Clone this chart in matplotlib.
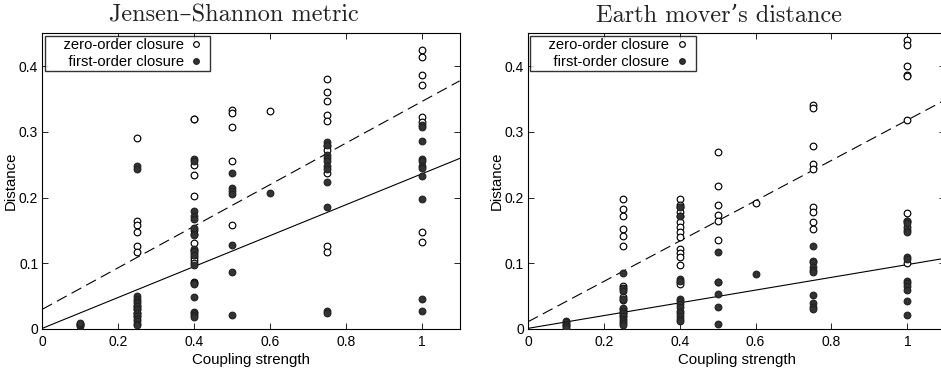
import matplotlib
matplotlib.use("Agg")
import matplotlib.pyplot as plt
import numpy as np

# ---------------- data ----------------
# Jensen-Shannon metric
js_zero_x = ([0.25]*10 + [0.4]*15 + [0.5]*5 + [0.6] + [0.75]*10 + [1.0]*8)
js_zero_y = ([0.291, 0.165, 0.158, 0.148, 0.127, 0.117, 0.035, 0.030, 0.025, 0.020] +
             [0.320, 0.319, 0.250, 0.235, 0.202, 0.151, 0.145, 0.131, 0.120, 0.115,
              0.110, 0.105, 0.100, 0.072, 0.070] +
             [0.333, 0.328, 0.308, 0.256, 0.159] +
             [0.331] +
             [0.380, 0.360, 0.347, 0.325, 0.316, 0.278, 0.272, 0.238, 0.126, 0.117] +
             [0.424, 0.414, 0.387, 0.371, 0.322, 0.315, 0.147, 0.132])
js_first_x = ([0.1]*5 + [0.25]*14 + [0.4]*17 + [0.5]*7 + [0.6] + [0.75]*11 + [1.0]*11)
js_first_y = ([0.004, 0.006, 0.007, 0.008, 0.009] +
              [0.248, 0.244, 0.050, 0.046, 0.043, 0.040, 0.035, 0.030, 0.025, 0.020,
               0.015, 0.012, 0.008, 0.006] +
              [0.259, 0.255, 0.179, 0.172, 0.168, 0.153, 0.143, 0.122, 0.118, 0.112,
               0.097, 0.068, 0.049, 0.026, 0.024, 0.021, 0.019] +
              [0.238, 0.215, 0.210, 0.206, 0.128, 0.087, 0.022] +
              [0.207] +
              [0.284, 0.280, 0.265, 0.260, 0.255, 0.248, 0.243, 0.224, 0.185, 0.028, 0.025] +
              [0.311, 0.308, 0.286, 0.259, 0.255, 0.248, 0.245, 0.233, 0.198, 0.045, 0.027])
js_zero_fit = [0.030, 0.316]    # intercept, slope
js_first_fit = [0.001, 0.235]

# Earth mover's distance
emd_zero_x = ([0.25]*13 + [0.4]*15 + [0.5]*6 + [0.6] + [0.75]*9 + [1.0]*10)
emd_zero_y = ([0.198, 0.183, 0.172, 0.152, 0.142, 0.126, 0.066, 0.062, 0.048, 0.044,
               0.030, 0.025, 0.020] +
              [0.198, 0.189, 0.185, 0.178, 0.172, 0.163, 0.155, 0.147, 0.140, 0.122,
               0.115, 0.110, 0.098, 0.072, 0.069] +
              [0.269, 0.217, 0.188, 0.174, 0.165, 0.136] +
              [0.192] +
              [0.341, 0.336, 0.279, 0.251, 0.244, 0.185, 0.178, 0.163, 0.152] +
              [0.440, 0.432, 0.400, 0.387, 0.385, 0.318, 0.177, 0.165, 0.155, 0.100])
emd_first_x = ([0.1]*6 + [0.25]*12 + [0.4]*13 + [0.5]*6 + [0.6] + [0.75]*10 + [1.0]*12)
emd_first_y = ([0.012, 0.010, 0.008, 0.006, 0.004, 0.002] +
               [0.085, 0.061, 0.058, 0.045, 0.032, 0.028, 0.024, 0.020, 0.015, 0.012,
                0.009, 0.006] +
               [0.185, 0.172, 0.076, 0.073, 0.046, 0.042, 0.038, 0.033, 0.028, 0.025,
                0.020, 0.015, 0.012] +
               [0.117, 0.072, 0.071, 0.054, 0.034, 0.007] +
               [0.084] +
               [0.127, 0.104, 0.102, 0.095, 0.090, 0.087, 0.052, 0.039, 0.034, 0.031] +
               [0.165, 0.162, 0.150, 0.148, 0.110, 0.107, 0.073, 0.070, 0.065, 0.060,
                0.043, 0.022])
emd_zero_fit = [0.011, 0.307]
emd_first_fit = [0.001, 0.097]

titles = ["Jensen\u2013Shannon metric", "Earth mover\u2019s distance"]
series_labels = ["zero-order closure", "first-order closure"]
xticks = [0, 0.2, 0.4, 0.6, 0.8, 1.0]
xticklabels = ["0", "0.2", "0.4", "0.6", "0.8", "1"]
yticks = [0, 0.1, 0.2, 0.3, 0.4]
yticklabels = ["0", "0.1", "0.2", "0.3", "0.4"]

# ---------------- plot ----------------
plt.rcParams['font.family'] = ['Liberation Sans', 'DejaVu Sans']
fig = plt.figure(figsize=(9.41, 3.73), dpi=100)

W = 417.3 / 941
panels = [
    (42.3 / 941, js_zero_x, js_zero_y, js_first_x, js_first_y, js_zero_fit, js_first_fit, 234 / 941),
    (528.0 / 941, emd_zero_x, emd_zero_y, emd_first_x, emd_first_y, emd_zero_fit, emd_first_fit, 719 / 941),
]
bottom = (373 - 329) / 373
height = (329 - 33.3) / 373

for i, (left, zx, zy, fx, fy, zfit, ffit, tx) in enumerate(panels):
    ax = fig.add_axes([left, bottom, W, height])
    xs = np.array([0, 1.1])
    ax.plot(xs, zfit[0] + zfit[1] * xs, color='black', lw=0.8, ls=(0, (10, 5)), zorder=1)
    ax.plot(xs, ffit[0] + ffit[1] * xs, color='black', lw=0.8, ls='-', zorder=1)
    ax.plot(zx, zy, ls='none', marker='o', ms=4.8, mfc='white', mec='black', mew=0.85,
            label='    ' + series_labels[0], zorder=3)
    ax.plot(fx, fy, ls='none', marker='o', ms=4.8, mfc='#333333', mec='#222222', mew=0.85,
            label='    ' + series_labels[1], zorder=3)
    ax.set_xlim(0, 1.1)
    ax.set_ylim(0, 0.45)
    ax.set_xticks(xticks)
    ax.set_xticklabels(xticklabels)
    ax.set_yticks(yticks)
    ax.set_yticklabels(yticklabels)
    ax.tick_params(direction='in', top=True, right=True, length=4, width=0.6,
                   labelsize=10, pad=3)
    ax.tick_params(axis='x', pad=4.5)
    for s in ax.spines.values():
        s.set_linewidth(0.8)
    ax.set_xlabel('Coupling strength', fontsize=10.8, labelpad=2.5)
    ax.set_ylabel('Distance', fontsize=10.8, labelpad=0)
    ax.yaxis.set_label_coords(-0.058, 0.5)
    leg = ax.legend(loc='upper left', markerfirst=False, fontsize=10.6, frameon=True,
                    fancybox=False, borderpad=0.15, handletextpad=0.05, labelspacing=0.2,
                    borderaxespad=0.15, handlelength=1.6, markerscale=0.85)
    leg.get_frame().set_edgecolor('black')
    leg.get_frame().set_linewidth(1.0)
    for t in leg.get_texts():
        t.set_ha('right')
    fig.text(tx, 0.958, titles[i], ha='center', va='center', fontsize=17.5,
             family=['cmr10', 'DejaVu Serif'], color='#222222')

fig.savefig('out.png', dpi=100)
